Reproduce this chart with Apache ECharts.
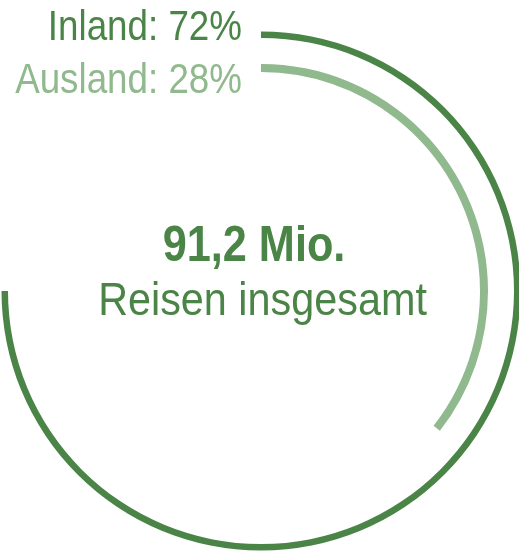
<!DOCTYPE html>
<html>
<head>
<meta charset="utf-8">
<script src="https://cdn.jsdelivr.net/npm/echarts@6/dist/echarts.min.js"></script>
<style>
  html, body { margin: 0; padding: 0; background: #fff; }
  #chart { width: 519px; height: 554px; }
</style>
</head>
<body>
<div id="chart"></div>
<script>
var labels = ['Inland', 'Ausland'];
var shares = [72, 28];
// the artwork does not use one common scale: value that makes a full circle for each ring
var fullCircle = [96, 78.75];
var totalText = '91,2 Mio.';
var subText = 'Reisen insgesamt';

var colors = ['#4a8447', '#90b98d'];
var rings = [[253, 259.5], [219, 227]];
var font = "'Liberation Sans', Arial, sans-serif";

var myChart = echarts.init(document.getElementById('chart'));

var polar = [], angleAxis = [], radiusAxis = [], series = [], graphic = [];

// Liberation Sans squeezed with scaleX to look like a condensed face
function label(text, x, y, align, color, fnt, squeeze) {
    return {
        type: 'text',
        x: x,
        y: y,
        scaleX: squeeze,
        silent: true,
        style: {
            text: text,
            x: 0,
            y: 0,
            textAlign: align,
            textVerticalAlign: 'middle',
            fill: color,
            font: fnt
        }
    };
}

labels.forEach(function(name, i) {
    polar.push({ center: [261, 291], radius: rings[i] });
    angleAxis.push({
        polarIndex: i,
        min: 0,
        max: fullCircle[i],
        startAngle: 90,
        clockwise: true,
        show: false
    });
    radiusAxis.push({
        polarIndex: i,
        type: 'category',
        data: [name],
        show: false
    });
    series.push({
        type: 'bar',
        name: name,
        coordinateSystem: 'polar',
        polarIndex: i,
        data: [shares[i]],
        barWidth: '100%',
        itemStyle: { color: colors[i] },
        silent: true
    });
    graphic.push(label(name + ': ' + shares[i] + '%', 242, 28.5 + i * 53, 'right',
        colors[i], '43px ' + font, 0.855));
});

graphic.push(label(totalText, 254, 247, 'center', colors[0], 'bold 50px ' + font, 0.865));
graphic.push(label(subText, 262.5, 302, 'center', colors[0], '47px ' + font, 0.88));

var option = {
    animation: false,
    polar: polar,
    angleAxis: angleAxis,
    radiusAxis: radiusAxis,
    series: series,
    graphic: graphic
};
myChart.setOption(option);
</script>
</body>
</html>
